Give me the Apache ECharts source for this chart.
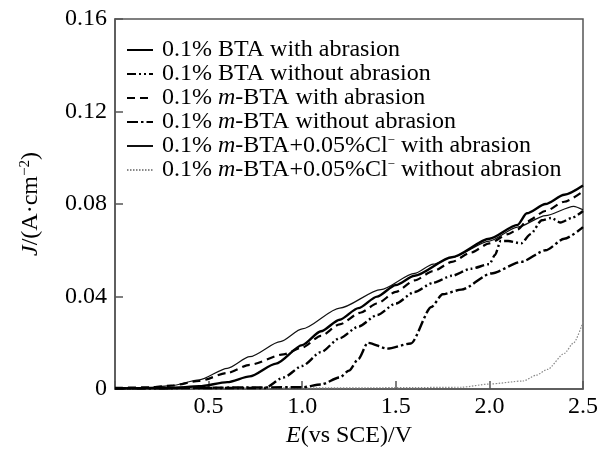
<!DOCTYPE html>
<html>
<head>
<meta charset="utf-8">
<script src="https://cdn.jsdelivr.net/npm/echarts@6/dist/echarts.min.js"></script>
<style>
html,body{margin:0;padding:0;background:#fff;}
#chart{width:605px;height:453px;}
</style>
</head>
<body>
<div id="chart"></div>
<script>
// ---- data (E in V vs SCE, J in A/cm^2) ----
const seriesNames = [
  '0.1% BTA with abrasion',
  '0.1% BTA without abrasion',
  '0.1% m-BTA with abrasion',
  '0.1% m-BTA without abrasion',
  '0.1% m-BTA+0.05%Cl- with abrasion',
  '0.1% m-BTA+0.05%Cl- without abrasion'
];
const btaWith = [[0,0.0003],[0.3,0.0005],[0.45,0.0012],[0.6,0.003],[0.72,0.0055],[0.86,0.011],[1.0,0.019],[1.1,0.025],[1.2,0.030],[1.3,0.035],[1.4,0.040],[1.5,0.045],[1.6,0.049],[1.8,0.057],[2.0,0.065],[2.15,0.071],[2.2,0.076],[2.3,0.080],[2.4,0.084],[2.5,0.088]];
const btaWithout = [[0,0.0003],[0.8,0.0005],[0.9,0.005],[1.0,0.010],[1.1,0.016],[1.2,0.022],[1.3,0.027],[1.4,0.032],[1.5,0.037],[1.6,0.042],[1.7,0.046],[1.8,0.049],[1.9,0.052],[2.0,0.054],[2.03,0.058],[2.06,0.064],[2.1,0.064],[2.17,0.063],[2.22,0.067],[2.28,0.073],[2.33,0.074],[2.38,0.072],[2.44,0.074],[2.5,0.077]];
const mbtaWith = [[0,0.0005],[0.2,0.0008],[0.3,0.0015],[0.45,0.0035],[0.6,0.007],[0.72,0.0105],[0.9,0.015],[1.0,0.018],[1.1,0.023],[1.2,0.028],[1.31,0.033],[1.4,0.037],[1.5,0.042],[1.6,0.047],[1.7,0.051],[1.8,0.055],[1.9,0.059],[2.0,0.063],[2.1,0.067],[2.15,0.069],[2.2,0.0725],[2.3,0.077],[2.4,0.081],[2.5,0.0855]];
const mbtaWithout = [[0,0.0003],[1.0,0.0008],[1.1,0.002],[1.2,0.005],[1.25,0.008],[1.3,0.013],[1.35,0.020],[1.455,0.0175],[1.58,0.0197],[1.69,0.0355],[1.75,0.041],[1.85,0.043],[2.01,0.050],[2.17,0.055],[2.3,0.060],[2.4,0.065],[2.5,0.070]];
const clWith = [[0,0.0005],[0.2,0.0008],[0.3,0.0015],[0.45,0.004],[0.6,0.009],[0.72,0.014],[0.883,0.0205],[1.0,0.026],[1.2,0.035],[1.42,0.043],[1.6,0.050],[1.7,0.054],[1.8,0.057],[2.0,0.064],[2.15,0.070],[2.3,0.075],[2.45,0.079],[2.5,0.0775]];
const clWithout = [[0,0.0005],[1.0,0.0005],[1.5,0.0006],[1.85,0.0008],[2.0,0.0022],[2.18,0.0035],[2.25,0.006],[2.31,0.0085],[2.4,0.0154],[2.45,0.020],[2.5,0.029]];
const xTickValues = [0, 0.5, 1.0, 1.5, 2.0, 2.5];
const yTickValues = [0, 0.04, 0.08, 0.12, 0.16];

const FONT = 'Liberation Serif';
const legendRich = {
  t: {fontFamily: FONT, fontSize: 24, lineHeight: 23, color: '#000'},
  i: {fontStyle: 'italic', fontFamily: FONT, fontSize: 24, lineHeight: 23, color: '#000'},
  sup: {fontFamily: FONT, fontSize: 13, lineHeight: 23, color: '#000', verticalAlign: 'top', padding: [0,0,10,0]}
};
function legendLabel(name) {
  const s = name.replace('m-BTA', '\u0001m\u0002-BTA').replace('Cl-', 'Cl\u0003');
  return s.split(/(\u0001m\u0002|\u0003)/).filter(p => p !== '').map(p => {
    if (p === '\u0001m\u0002') return '{i|m}';
    if (p === '\u0003') return '{sup|−}';
    return '{t|' + p + '}';
  }).join('');
}

const styles = [
  {type: 'solid', width: 2.4, color: '#000'},
  {type: [9,3,2,3,2,3], width: 2.4, color: '#000'},
  {type: [8,5], width: 2.2, color: '#000'},
  {type: [11,3,2.5,3], width: 2.4, color: '#000'},
  {type: 'solid', width: 1.2, color: '#111'},
  {type: [1.5,1.5], width: 1.2, color: '#888'}
];
const datasets = [btaWith, btaWithout, mbtaWith, mbtaWithout, clWith, clWithout];

const chart = echarts.init(document.getElementById('chart'), null, {renderer: 'canvas'});
chart.setOption({
  animation: false,
  backgroundColor: '#fff',
  grid: {left: 115, right: 22, top: 19, bottom: 60, show: true, borderColor: '#555', borderWidth: 1.5},
  legend: {
    orient: 'vertical', left: 121, top: 33, itemWidth: 26, itemHeight: 12, itemGap: 0,
    data: seriesNames,
    formatter: legendLabel,
    itemStyle: {opacity: 0},
    textStyle: {fontFamily: FONT, fontSize: 24, lineHeight: 23, color: '#000', padding: [0,0,0,4], rich: legendRich}
  },
  xAxis: {
    type: 'value', min: 0, max: 2.5, interval: 0.5,
    name: '{i|E}(vs SCE)/V', nameLocation: 'middle', nameGap: 32,
    nameTextStyle: {fontFamily: FONT, fontSize: 24, color: '#000', rich: {i: {fontStyle: 'italic', fontFamily: FONT, fontSize: 24, color: '#000'}}},
    axisLine: {lineStyle: {color: '#555', width: 1.5}},
    axisTick: {inside: true, length: 8, lineStyle: {color: '#555', width: 1.5}},
    axisLabel: {fontFamily: FONT, fontSize: 24, color: '#000', margin: 6,
      formatter: v => v === 0 ? '' : v.toFixed(1)},
    splitLine: {show: false}
  },
  yAxis: {
    type: 'value', min: 0, max: 0.16, interval: 0.04,
    name: '{i|J}/(A·cm{sup|−2})', nameLocation: 'middle', nameGap: 72,
    nameTextStyle: {fontFamily: FONT, fontSize: 24, color: '#000', rich: {
      i: {fontStyle: 'italic', fontFamily: FONT, fontSize: 24, color: '#000'},
      sup: {fontFamily: FONT, fontSize: 15, color: '#000', verticalAlign: 'top', padding: [0,0,10,0]}
    }},
    axisLine: {lineStyle: {color: '#555', width: 1.5}},
    axisTick: {inside: true, length: 8, lineStyle: {color: '#555', width: 1.5}},
    axisLabel: {fontFamily: FONT, fontSize: 24, color: '#000', margin: 8,
      formatter: v => v === 0 ? '0' : v.toFixed(2)},
    splitLine: {show: false}
  },
  series: seriesNames.map((n, k) => ({
    name: n, type: 'line', data: datasets[k], symbol: 'none', showSymbol: false,
    smooth: 0.25, smoothMonotone: 'x',
    lineStyle: styles[k], itemStyle: {color: styles[k].color},
    z: 10 - k
  }))
});
</script>
</body>
</html>
